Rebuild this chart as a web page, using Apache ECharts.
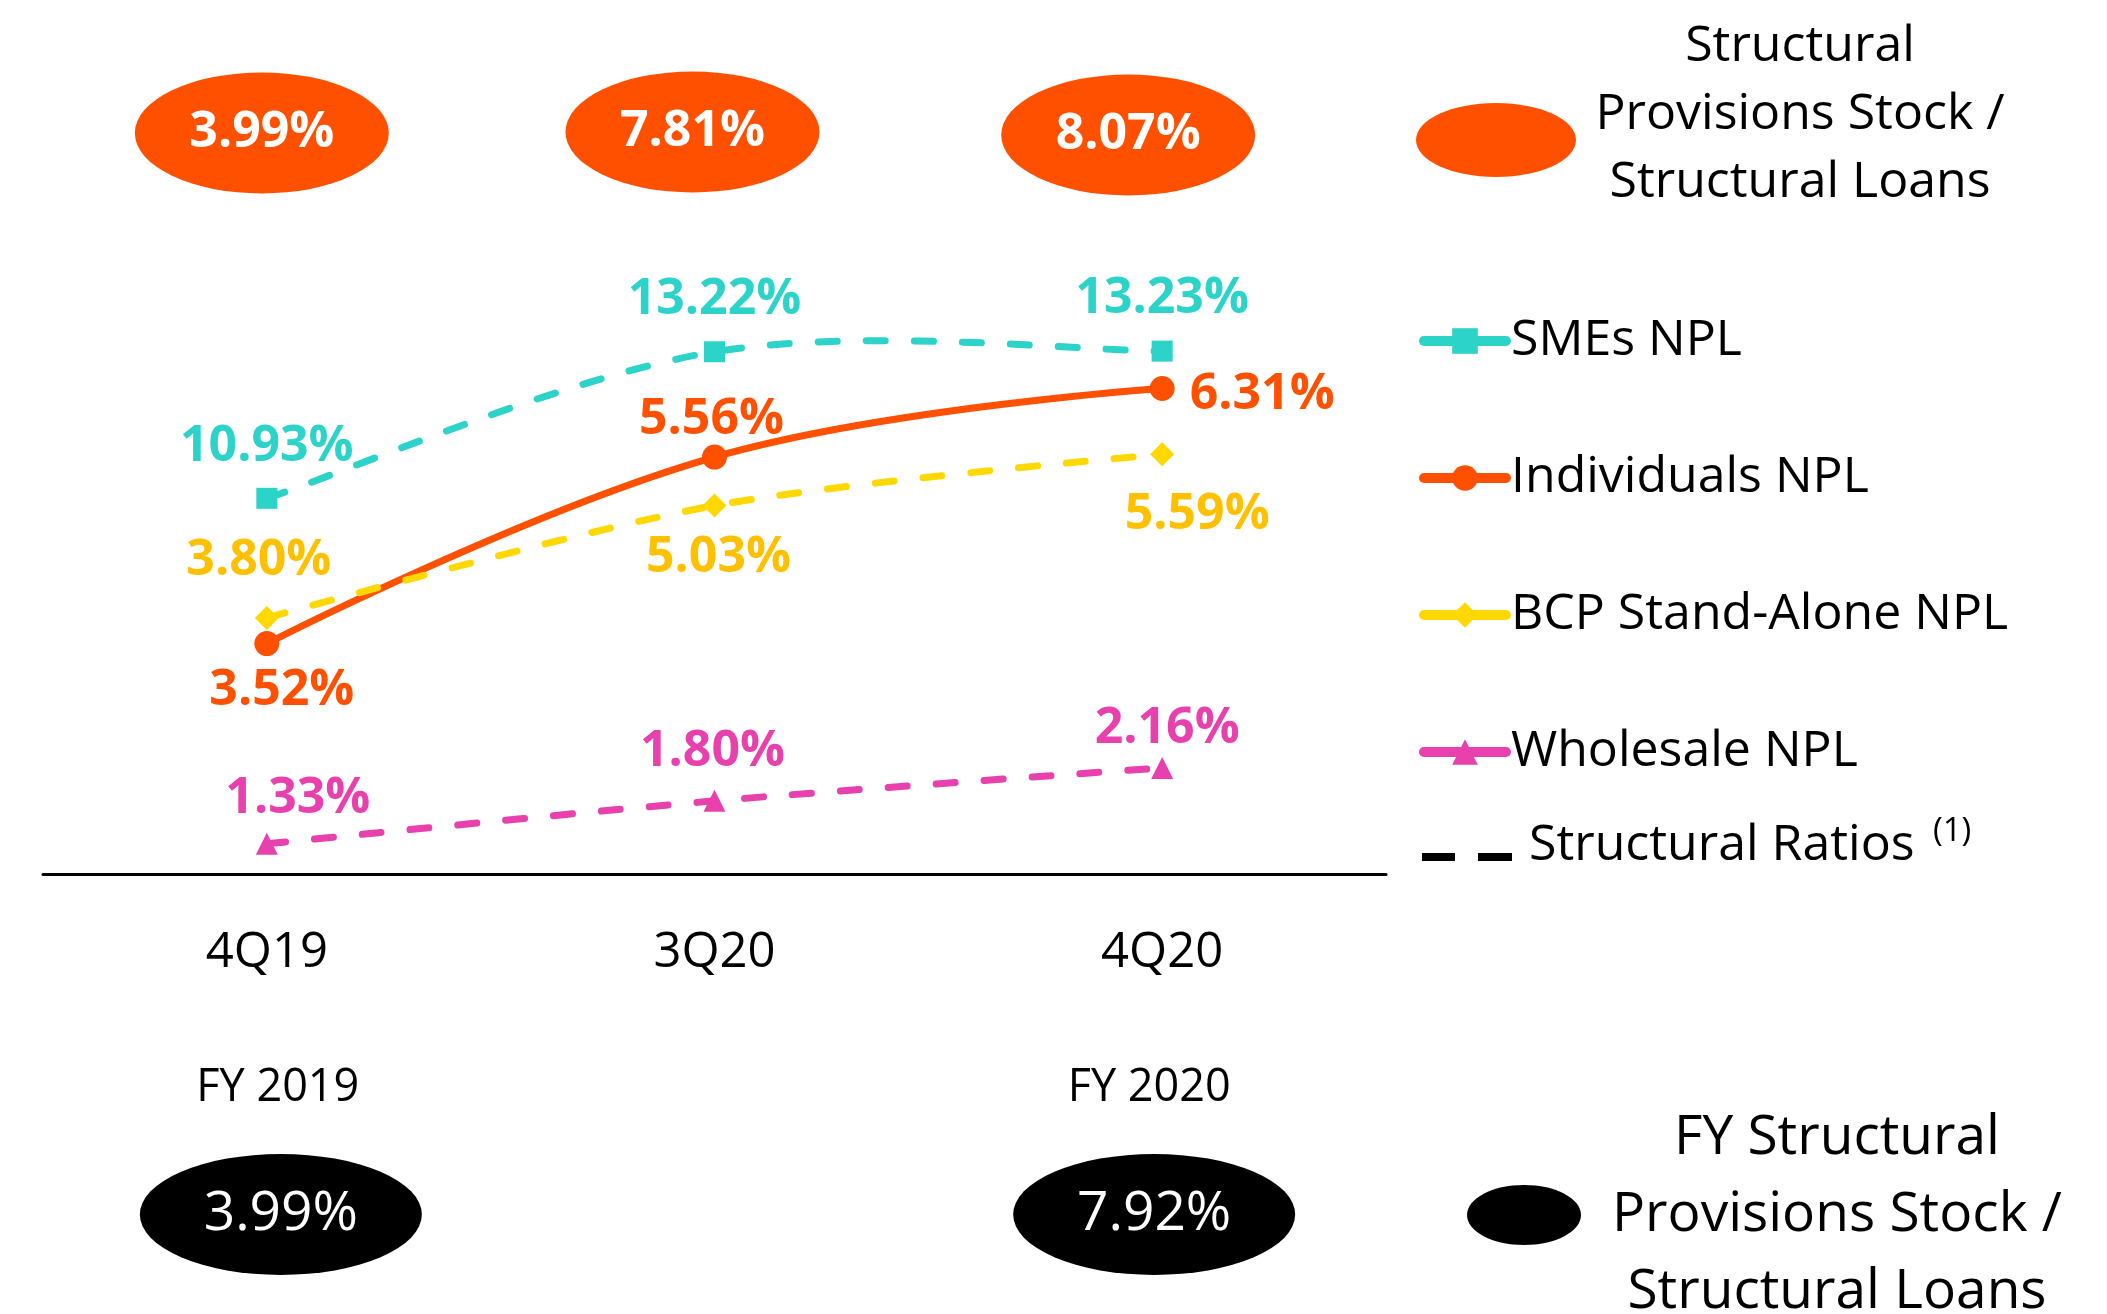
<!DOCTYPE html>
<html>
<head>
<meta charset="utf-8">
<title>NPL and Structural Provisions</title>
<script src="https://cdn.jsdelivr.net/npm/echarts@6/dist/echarts.min.js"></script>
<style>
  html, body { margin: 0; padding: 0; background: #ffffff; }
  #chart { width: 2107px; height: 1314px; }
</style>
</head>
<body>
<div id="chart"></div>
<script>
// ---- data ----
const quarters = ['4Q19', '3Q20', '4Q20'];
const smesNpl = [10.93, 13.22, 13.23];
const individualsNpl = [3.52, 5.56, 6.31];
const bcpNpl = [3.80, 5.03, 5.59];
const wholesaleNpl = [1.33, 1.80, 2.16];
const provisionsRatio = [3.99, 7.81, 8.07];
const fyLabels = ['FY 2019', '', 'FY 2020'];
const fyProvisionsRatio = [3.99, null, 7.92];
const seriesNames = ['SMEs NPL', 'Individuals NPL', 'BCP Stand-Alone NPL', 'Wholesale NPL'];

// ---- layout helpers (label placement per point, badge shifts) ----
const smeLabelOffset = [[0, -52], [0, -52], [0, -52]];
const indLabelOffset = [[15, 47], [-3, -37], [100, 6]];
const bcpLabelOffset = [[-8, -57], [4, 52], [35, 60]];
const whsLabelOffset = [[31, -45], [-2, -49], [5, -39]];
const topBadgeShift = [[-5, 0], [-22, -1], [-34, 2]];
const fyBadgeShift = [[14, 0], [0, 0], [-8, 0]];

const FONT = 'Open Sans';
const TEAL = '#2CD3C9';
const DASH = [19, 29];
const pct = v => v.toFixed(2) + '%';

function lineSeries(name, values, color, labelColor, symbol, symbolSize, dashed, yAxisIndex, offsets, smooth, hideLine) {
  return {
    name: name,
    type: 'line',
    xAxisIndex: 0,
    yAxisIndex: yAxisIndex,
    smooth: smooth,
    symbol: symbol,
    symbolSize: symbolSize,
    itemStyle: { color: color },
    lineStyle: {
      color: color, width: 7, type: dashed ? DASH : 'solid', cap: 'round',
      opacity: hideLine ? 0 : 1
    },
    label: {
      show: true,
      position: 'inside',
      align: 'center',
      verticalAlign: 'middle',
      fontFamily: FONT,
      fontWeight: 'bold',
      fontSize: 50,
      color: labelColor,
      formatter: p => pct(p.value)
    },
    data: values.map((v, i) => ({ value: v, label: { offset: offsets[i] } })),
    z: 3
  };
}

// Spreadsheet-style smoothed curve (Catmull-Rom tangents / 6) through the SME points,
// mapped through the secondary value axis.
function renderSmeCurve(params, api) {
  if (params.dataIndex !== 0) return null;
  const pts = smesNpl.map((v, i) => api.coord([i, v]));
  const n = pts.length;
  let d = 'M' + pts[0][0] + ' ' + pts[0][1];
  for (let i = 0; i < n - 1; i++) {
    const p0 = pts[Math.max(i - 1, 0)];
    const p1 = pts[i];
    const p2 = pts[i + 1];
    const p3 = pts[Math.min(i + 2, n - 1)];
    const c1x = p1[0] + (p2[0] - p0[0]) / 6;
    const c1y = p1[1] + (p2[1] - p0[1]) / 6;
    const c2x = p2[0] - (p3[0] - p1[0]) / 6;
    const c2y = p2[1] - (p3[1] - p1[1]) / 6;
    d += ' C' + c1x + ' ' + c1y + ' ' + c2x + ' ' + c2y + ' ' + p2[0] + ' ' + p2[1];
  }
  return {
    type: 'path',
    shape: { pathData: d },
    style: { fill: null, stroke: TEAL, lineWidth: 7, lineDash: DASH, lineCap: 'round' }
  };
}

const chart = echarts.init(document.getElementById('chart'), null, { renderer: 'canvas' });

const option = {
  backgroundColor: '#ffffff',
  animation: false,
  textStyle: { fontFamily: FONT },
  grid: [
    { left: 43, width: 1343, top: 234, height: 640 },   // NPL lines
    { left: 43, width: 1343, top: 73, height: 120 },    // quarterly provisions badges
    { left: 43, width: 1343, top: 1154, height: 121 }   // full-year provisions badges
  ],
  xAxis: [
    {
      gridIndex: 0, type: 'category', data: quarters, boundaryGap: true,
      axisLine: { show: true, lineStyle: { color: '#000000', width: 3 } },
      axisTick: { show: false },
      splitLine: { show: false },
      axisLabel: { margin: 54, fontFamily: FONT, fontSize: 49, lineHeight: 50, color: '#000000' }
    },
    {
      gridIndex: 1, type: 'category', data: quarters, boundaryGap: true, show: false
    },
    {
      gridIndex: 2, type: 'category', position: 'top', boundaryGap: true,
      data: [
        { value: fyLabels[0], textStyle: { padding: [0, 0, 0, 22] } },
        { value: fyLabels[1] },
        { value: fyLabels[2], textStyle: { padding: [0, 26, 0, 0] } }
      ],
      axisLine: { show: false },
      axisTick: { show: false },
      splitLine: { show: false },
      axisLabel: { margin: 41, fontFamily: FONT, fontSize: 45, lineHeight: 50, color: '#000000' }
    }
  ],
  yAxis: [
    { gridIndex: 0, type: 'value', min: 1, max: 8, show: false },
    { gridIndex: 0, type: 'value', min: 5.06, max: 15.06, show: false },
    { gridIndex: 1, type: 'value', min: -1, max: 1, show: false },
    { gridIndex: 2, type: 'value', min: -1, max: 1, show: false }
  ],
  legend: {
    data: seriesNames,
    orient: 'vertical',
    left: 1414,
    top: 308,
    itemWidth: 82,
    itemHeight: 32,
    itemGap: 81,
    selectedMode: false,
    lineStyle: { type: 'solid', width: 10, opacity: 1 },
    textStyle: { fontFamily: FONT, fontSize: 50, color: '#000000', lineHeight: 56 }
  },
  series: [
    lineSeries(seriesNames[0], smesNpl, TEAL, TEAL, 'rect', 21, true, 1, smeLabelOffset, false, true),
    {
      type: 'custom',
      xAxisIndex: 0,
      yAxisIndex: 1,
      renderItem: renderSmeCurve,
      data: smesNpl,
      silent: true,
      z: 2
    },
    lineSeries(seriesNames[1], individualsNpl, '#FF5000', '#FF5000', 'circle', 25, false, 0, indLabelOffset, 0.4, false),
    lineSeries(seriesNames[2], bcpNpl, '#FFD800', '#FFC000', 'diamond', 24, true, 0, bcpLabelOffset, 0.3, false),
    lineSeries(seriesNames[3], wholesaleNpl, '#E840AC', '#E840AC', 'triangle', 22, true, 0, whsLabelOffset, 0.3, false),
    {
      name: 'Structural Provisions Stock / Structural Loans',
      type: 'scatter',
      xAxisIndex: 1,
      yAxisIndex: 2,
      symbol: 'circle',
      symbolSize: [254, 121],
      itemStyle: { color: '#FF5000', opacity: 1 },
      label: {
        show: true, position: 'inside', color: '#ffffff',
        fontFamily: FONT, fontWeight: 'bold', fontSize: 50,
        formatter: p => pct(p.value[2])
      },
      data: provisionsRatio.map((v, i) => ({
        value: [i, 0, v],
        symbolOffset: topBadgeShift[i]
      }))
    },
    {
      name: 'FY Structural Provisions Stock / Structural Loans',
      type: 'scatter',
      xAxisIndex: 2,
      yAxisIndex: 3,
      symbol: 'circle',
      symbolSize: [282, 121],
      itemStyle: { color: '#000000', opacity: 1 },
      label: {
        show: true, position: 'inside', color: '#ffffff',
        fontFamily: FONT, fontWeight: 'normal', fontSize: 55,
        formatter: p => pct(p.value[2])
      },
      data: fyProvisionsRatio
        .map((v, i) => (v == null ? null : {
          value: [i, 0, v],
          symbolOffset: fyBadgeShift[i]
        }))
        .filter(Boolean)
    }
  ],
  graphic: [
    // key for the quarterly provisions badges
    { type: 'ellipse', shape: { cx: 1496, cy: 140, rx: 80, ry: 37 }, style: { fill: '#FF5000' } },
    {
      type: 'text', x: 1800, y: 115,
      style: {
        text: 'Structural\nProvisions Stock /\nStructural Loans',
        fontFamily: FONT, fontSize: 50, lineHeight: 68, fill: '#000000',
        align: 'center', verticalAlign: 'middle'
      }
    },
    // key for the dashed structural ratios
    { type: 'rect', shape: { x: 1422, y: 853, width: 33, height: 8 }, style: { fill: '#000000' } },
    { type: 'rect', shape: { x: 1478, y: 853, width: 34, height: 8 }, style: { fill: '#000000' } },
    {
      type: 'text', x: 1529, y: 846,
      style: {
        text: 'Structural Ratios', fontFamily: FONT, fontSize: 50, fill: '#000000',
        align: 'left', verticalAlign: 'middle'
      }
    },
    {
      type: 'text', x: 1933, y: 832,
      style: {
        text: '(1)', fontFamily: FONT, fontSize: 33, fill: '#000000',
        align: 'left', verticalAlign: 'middle'
      }
    },
    // key for the full-year badges
    { type: 'ellipse', shape: { cx: 1524, cy: 1215, rx: 57, ry: 30 }, style: { fill: '#000000' } },
    {
      type: 'text', x: 1837, y: 1215,
      style: {
        text: 'FY Structural\nProvisions Stock /\nStructural Loans',
        fontFamily: FONT, fontSize: 55, lineHeight: 77, fill: '#000000',
        align: 'center', verticalAlign: 'middle'
      }
    }
  ]
};

chart.setOption(option);
</script>
</body>
</html>
